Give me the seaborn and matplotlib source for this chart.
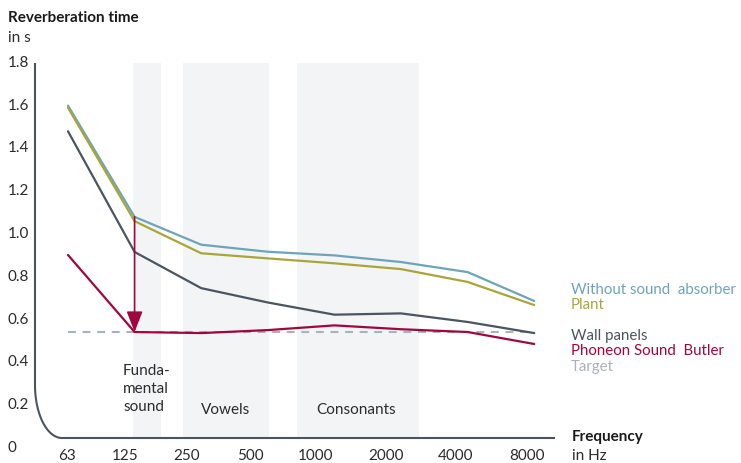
import numpy as np
import pandas as pd
import matplotlib.pyplot as plt
import seaborn as sns

# values (reverberation time in s per octave band)
freq_labels = ['63', '125', '250', '500', '1000', '2000', '4000', '8000']
without_absorber = [1.60, 1.08, 0.95, 0.917, 0.90, 0.869, 0.822, 0.687]
plant = [1.59, 1.06, 0.91, 0.886, 0.863, 0.836, 0.776, 0.668]
wall_panels = [1.48, 0.916, 0.747, 0.68, 0.623, 0.629, 0.589, 0.537]
phoneon = [0.902, 0.542, 0.537, 0.551, 0.573, 0.555, 0.542, 0.486]
target = [0.542] * 8
y_ticks = [0, 0.2, 0.4, 0.6, 0.8, 1.0, 1.2, 1.4, 1.6, 1.8]
y_tick_labels = ['0', '0.2', '0.4', '0.6', '0.8', '1.0', '1.2', '1.4', '1.6', '1.8']
band_labels = ['Funda-\nmental\nsound', 'Vowels', 'Consonants']

series_names = ['Without sound  absorber', 'Plant', 'Wall panels', 'Phoneon Sound  Butler']
colors = {'Without sound  absorber': '#6ea4b9', 'Plant': '#a9a637',
          'Wall panels': '#4a5560', 'Phoneon Sound  Butler': '#a0073f'}
target_color = '#a9b2bb'
text_color = '#2b2b2b'

sns.set_style('white')
plt.rcParams['font.family'] = ['Lato', 'DejaVu Sans']

# pixel -> data helpers for the layout (figure is 741 x 463 px)
def X(px):
    return (px - 68) / 66.6

def Y(py):
    return (448 - py) / 214

fig = plt.figure(figsize=(7.41, 4.63), dpi=100)
ax = fig.add_axes([0, 0, 1, 1])
ax.set_xlim(X(0), X(741))
ax.set_ylim(Y(463), Y(0))
ax.axis('off')

# shaded frequency bands
for x0, x1 in [(133, 161), (183, 269), (297, 419)]:
    ax.fill_between([X(x0), X(x1)], Y(438), 1.8, color='#f3f4f6', lw=0, zorder=0)

pos = np.arange(len(freq_labels))
df = pd.DataFrame({
    'pos': np.tile(pos, 4),
    'value': without_absorber + plant + wall_panels + phoneon,
    'series': np.repeat(series_names, len(pos)),
})

sns.lineplot(x=pos, y=target, color=target_color, lw=1.5, ax=ax, zorder=2)
ax.lines[-1].set_linestyle((0, (3.8, 3.2)))
sns.lineplot(data=df, x='pos', y='value', hue='series', palette=colors,
             lw=1.6, legend=False, ax=ax, zorder=3)

# arrow from untreated room to target at 125 Hz
ax.annotate('', xy=(1, target[1]), xytext=(1, without_absorber[1]),
            arrowprops=dict(arrowstyle='-|>,head_length=0.9,head_width=0.35',
                            color=colors['Phoneon Sound  Butler'], lw=1.2,
                            shrinkA=0, shrinkB=0, mutation_scale=14),
            zorder=4)

# rounded axis
t = np.linspace(0, np.pi / 2, 40)
ax_x = np.concatenate([[35, 35], 35 + 27 - 27 * np.cos(t), [555]])
ax_y = np.concatenate([[63, 385], 385 + 53 * np.sin(t), [438]])
ax.plot(X(ax_x), Y(ax_y), color='#4a5560', lw=1.5, solid_capstyle='butt', zorder=3)

fs = 11
for v, lab in zip(y_ticks, y_tick_labels):
    ax.text(X(8), v, lab, ha='left', va='center', fontsize=fs, color=text_color)

for px, lab in zip([67, 125, 187, 250, 316, 386, 456, 527], freq_labels):
    ax.text(X(px), Y(456), lab, ha='center', va='center', fontsize=fs, color=text_color)

ax.text(X(8), Y(18), 'Reverberation time', ha='left', va='center', fontsize=fs,
        fontweight='bold', color='#1a1a1a')
ax.text(X(8), Y(38), 'in s', ha='left', va='center', fontsize=fs, color=text_color)
ax.text(X(572), Y(437), 'Frequency', ha='left', va='center', fontsize=fs,
        fontweight='bold', color='#1a1a1a')
ax.text(X(572), Y(456), 'in Hz', ha='left', va='center', fontsize=fs, color=text_color)

ax.text(X(123), Y(389), band_labels[0], ha='left', va='center', fontsize=fs,
        color=text_color, linespacing=1.38)
ax.text(X(226), Y(410), band_labels[1], ha='center', va='center', fontsize=fs, color=text_color)
ax.text(X(356), Y(410), band_labels[2], ha='center', va='center', fontsize=fs, color=text_color)

# legend as coloured labels
for py, name in zip([290, 305, 336, 351], series_names):
    ax.text(X(571), Y(py), name, ha='left', va='center', fontsize=10.8, color=colors[name])
ax.text(X(571), Y(367), 'Target', ha='left', va='center', fontsize=10.8, color=target_color)

fig.savefig('out.png', dpi=100)
